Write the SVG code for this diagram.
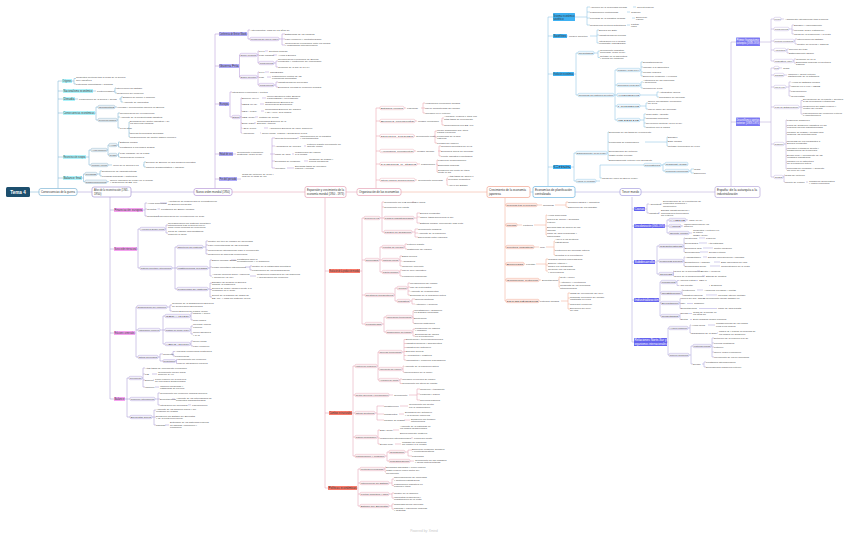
<svg xmlns="http://www.w3.org/2000/svg" width="848" height="536" viewBox="0 0 848 536">
<style>
text{font-family:"Liberation Sans",Arial,sans-serif;font-size:2.5px;fill:#4a4a4a}
.nt{font-size:2.9px;fill:#333}
.lt{font-size:2.6px;fill:#333}
.wt{fill:#fff}
#connectors path{fill:none;stroke-width:.55}
.ka{stroke:#7fb6d6}.kb{stroke:#a99ad6}.kc{stroke:#b79ad8}.kd{stroke:#e5a3b6}.ke{stroke:#eaa3ac}.kf{stroke:#f2ad96}.kg{stroke:#8cc4e6}.kh{stroke:#ada5dc}.ki{stroke:#b9aadb}
.ra{fill:#aef3fb}.rb{fill:#f5a3f0}.rc{fill:#aeaaf8}.rd{fill:#f97a6a}.rg{fill:#3eb1f2}.rh{fill:#6463ef}.ri{fill:#7b78f2}
.ba,.bb,.bc,.bd,.be,.bf,.bg,.bh,.bi{stroke-width:.4}
.ba{fill:#e8f0f5;stroke:#8fb3c9}.bb{fill:#f3f1fa;stroke:#a99ad6}.bc{fill:#f5f0fa;stroke:#b79ad8}.bd{fill:#fbf0f2;stroke:#e5a3b6}.be{fill:#fff;stroke:#e9a0a8}.bf{fill:#fde9e3;stroke:#f0a590}.bg{fill:#eef6fc;stroke:#8cc4e6}.bh{fill:#f0eef8;stroke:#ada5dc}.bi{fill:#fff;stroke:#b9aadb}
.m{fill:#fff;stroke-width:.7}
.title{font-size:4.6px;font-weight:bold;fill:#fff}
.mark{font-size:3.2px;fill:#c8c8c8}
</style>
<rect width="848" height="536" fill="#fff"/>
<g id="connectors">
<path class="ka" d="M30 192H39M58 188.5V81M58 81H62M58 91H63M58 99H63M58 113H63M58 157H63M58 178H63M72 81H74M74 78.5V84M74 78.5H76M74 84H76M93 91H96M114 91H115M115 88V93M115 88H116M115 93H117M75 99H78M119 99H121M121 97V102M121 97H123M121 102H123M95 113H96M96 107V120M96 107H98M96 120H98M115 107H117M117 120H118M118 113V128M118 113H120M118 117H120M118 128H120M128 128H129M129 122V137M129 122H130M129 133H130M129 137H130M86 157H89M89 150V165M89 150H91M89 165H91M107 150H108M108 145V155M108 145H109M108 155H109M117 145H118.5M118.5 142V147M118.5 142H120M118.5 147H120M117 155H118.5M118.5 153V157M118.5 153H120M118.5 157H120M108 165H112M143 165H144M144 162V167M144 162H146M144 167H146M82 178H83.5M83.5 174V181.7M83.5 174H85M83.5 181.7H85M97 174H100M100 171V176M100 171H102M100 176H102M107 181.7H109"/>
<path class="kb" d="M77 192H92M131 192H194M110 197V399M110 210H114M110 249H114M110 333H114M110 399H114M143 210H145M145 203V216M145 203H147M145 209H147M145 216H147M160 203H167M157.5 209H160M158 216H159M137 249H138M138 229V268M138 229H140M138 268H140M165 229H166M166 225V233M166 225H168M166 233H168M172 268H175M175 247V289M175 247H177M175 268H177M175 289H177M203 247H206M206 241V254M206 241H208M206 245H208M206 250H208M206 254H208M208 268H210M210 260V276M210 260H212M210 267H212M210 276H212M231 260H236M245 267H250M250 266V270M250 266H252M250 270H252M250 276H256M208 289H210M210 283V297M210 283H212M210 289.5H212M210 297H212M135 333H136M136 307V357M136 307H137M136 330H138M136 357H138M167 307H170M170 305V311M170 305H172M170 311H172M160 330H163M163 316V344M163 316H165M163 330H165M163 344H165M190 316H191M191 313V320M191 313H193M191 320H193M190 330H191M191 326V334M191 326H193M191 334H193M190 344H191M191 341V346M191 341H193M191 346H193M158 357H160M160 354V361M160 354H163M160 361H163M171 354H173M173 351.5V356M173 351.5H175M173 356H175M175.5 361H176.5M176.5 359.5V363.5M176.5 359.5H178M176.5 363.5H178M125 399H127M127 378V417M127 378H129M127 399H130M127 417H130M142 378H143M143 368V387M143 368H145M143 374H145M143 380H145M143 387H145M152 374H157M153 380H154M155 387H159M155 399H158M158 393V405M158 393H160M158 399H160M158 405H160M172 399H175M188 405H191M152 417H154M154 410V425M154 410H156M154 417H156M154 425H156M165 425H169"/>
<path class="kc" d="M215 188.5V34M215 34H219M215 66H219M215 104H219M215 154H219M215 179H219M247 34H248M248 30V39M248 30H250M248 39H250M279 39H282M282 34V45M282 34H285M282 39H285M282 45H285M239 66H239.5M239.5 55V77M239.5 55H240M239.5 77H240M257 55H258M258 51V63M258 51H259M258 55H259M258 63H259M265 51H268M273 55H277M274 63H276M276 61V67M276 61H278M276 67H278M257 77H258M258 72V85M258 72H259M258 77H259M258 85H259M265 72H269M267 77H271M274 85H276M276 82V87M276 82H278M276 87H278M229 104H230M230 92V117M230 92H232M230 117H232M240 117H241M241 98V133M241 98H242M241 104H242M241 111H242M241 117H242M241 123H242M241 128H242M241 133H242M262 98H266M260 104H264M261 111H264M255 117H258M254 123H256M264 128H268M260 133H261M233 154H236M270 154H272M272 138V168M272 138H275M272 146H275M272 154H275M272 161H275M272 168H275M297 138H299M304 146H306M292 154H294M304 161H308M287 168H294M237 179H241"/>
<path class="kd" d="M232 192H305M346 192H357M325 197.5V488M325 271H329M325 413H329M325 488H328M360 271H362M362 218V324M362 218H364M362 260H365M362 295H365M362 324H365M380 218H382M382 202V232M382 202H384M382 207H384M382 218H384M382 232H384M412 202H414M414 218H417M417 213V223M417 213H420M417 217H420M417 223H420M412 232H415M415 229V237M415 229H418M415 233H418M415 237H418M379 260H380M380 247V272M380 247H382M380 260H382M380 272H382M404 247H405M405 244V249M405 244H407M405 249H407M399 260H400M400 256V266M400 256H402M400 261H402M400 266H402M399 272H400M400 270V276M400 270H402M400 276H402M394 295H395M395 288V301M395 288H397M395 301H397M407 288H408M408 283V295M408 283H410M408 287H410M408 291H410M408 295H410M410 301H412M412 299V304M412 299H415M412 304H415M382 324H384M384 317V332M384 317H386M384 332H386M412 317H413M413 311V323M413 311H414M413 318H414M413 323H414M412 332H413M413 329V336M413 329H415M413 336H415M352 413H353M353 366V456M353 366H355M353 395H355M353 413H355M353 437H355M353 456H355M377 366H378M378 352V380M378 352H379M378 369H379M378 380H379M402 352H404M404 339.5V360M404 339.5H406M404 343.5H406M404 347.5H406M404 351.5H406M404 355.5H406M404 360H406M402 369H403M403 366V372M403 366H404M403 372H404M399 380H400M400 379V383.5M400 379H402M400 383.5H402M389 395H393M409 395H417M417 389V400M417 389H420M417 394H420M417 400H420M375 413H377M377 406V420M377 406H384M377 414H384M377 420H384M400 406H408M399 414H404M404 420H410M377 437H378M378 430V444M378 430H380M378 438H380M378 444H380M393 430H399M411 438H413M395 444H401M385 456H387M387 452V461M387 452H389M387 461H389M405 452H408M408 450V456M408 450H412M408 456H412M410 461H414M357 488H358M358 469V506M358 469H360M358 483H360M358 494H360M358 506H360M384 469H385M385 467V472M385 467H386M385 472H386M389 483H392M392 479V485.5M392 479H394M392 485.5H394M389 494H392M392 493V498M392 493H394M392 498H394M389 506H392M392 504V509M392 504H394M392 509H394"/>
<path class="ke" d="M376 188.5V108M376 108H380M376 121H380M376 136H380M376 151H380M376 164H380M376 180H380M404 108H406M421 108H423M423 103V113M423 103H425M423 108H425M423 113H425M415 121H417M441 121H442M442 118V125M442 118H444M442 125H444M414 136H415M434 136H435M435 131V143M435 131H437M435 137H437M435 143H437M414 151H416M438 151H439M439 146V156M439 146H441M439 151H441M439 156H441M417 164H420M436 164H437M437 160V172M437 160H438M437 165H438M437 172H438M415 180H417M446 180H447M447 178V185M447 178H448M447 185H448"/>
<path class="kf" d="M401 192H487M505 198V301M505 205H506M505 225H506M505 247H506M505 264H506M505 280H506M505 301H506M537 205H542M555 205H566M566 202V207M566 202H568M566 207H568M517 225H522M534 225H546M546 215V235M546 215H547M546 221H547M546 229H547M546 235H547M534 247H539M546 247H554M554 241V255M554 241H555M554 250H555M554 255H555M524 264H525M536 264H546M546 259V271M546 259H548M546 265H548M546 271H548M539 280H541M558 280H559M559 277V287M559 277H560M559 282H560M559 287H560M539 301H539.5M561 301H568M568 293V309M568 293H570M568 298H570M568 304H570M568 309H570"/>
<path class="kg" d="M530 192H533M548 186V17M548 17H553M548 36H553M548 74H553M548 167H553M575 17H587M587 7V25M587 7H590M587 12H590M587 18H590M587 25H590M633 7H636M627 12H630M632 18H635M627 25H630M567 36H568M590 36H597M597 30V43M597 30H599M597 35H599M597 43H599M574 74H576M576 53V95M576 53H578M576 95H578M594 53H598M598 51V57.5M598 51H600M598 57.5H600M614 95H615M615 70V120M615 70H617M615 85H617M615 95H617M615 106H617M615 120H617M640 70H641M641 62V76M641 62H643M641 67H643M641 72H643M641 76H643M640 85H641M641 82V88M641 82H643M641 88H643M640 95H657M657 92V97M657 92H659M657 97H659M640 106H646M646 103V109M646 103H648M646 109H648M640 120H644M644 114V127M644 114H646M644 118H646M644 123H646M644 127H646M571 167H574M574 153V181M574 153H576M574 181H576M607 153H608M608 132V160M608 132H609M608 142H609M608 151H609M608 155H609M608 160H609M645 142H667M667 137V146M667 137H668M667 141H668M667 146H668M596 181H600M600 165V178M600 165H644M600 178H602M661 165H663M663 164V171M663 164H665M663 171H665M689 171H691M691 169V173M691 169H694M691 173H694"/>
<path class="kh" d="M575 192H620M632 197V342M632 209H634M632 226H634M632 262H634M632 300H634M632 342H634M645 209H647M647 204V213M647 204H649M647 213H649M660 204H662M658 213H660M665 226H667M667 220V233M667 220H669M667 226H669M667 233H669M686 220H688M681 226H683M689 233H692M655 262H657M657 246V274M657 246H659M657 261H659M657 274H659M683 246H684M684 238V252M684 238H685M684 243H685M684 248H685M684 252H685M699 238H705M699 243H707M703 248H713M700 252H708M683 261H684M684 257V266M684 257H685M684 262H685M684 266H685M703 257H707M714 262H720M710 266H720M673 274H673.5M673.5 271V276M673.5 271H674M673.5 276H674M697 271H700M702 276H705M659 300H660M660 282V316M660 282H661M660 293H661M660 303H661M660 316H661M676 282H677M677 280.5V285.5M677 280.5H679M677 285.5H679M696 280.5H698M709 285.5H710M681 293H682M682 290V295M682 290H683M682 295H683M697 290H703M706 295H717M679 303H680M680 298.5V308.5M680 298.5H681M680 303.5H681M680 308.5H681M703 298.5H705M687 303.5H693M699 308.5H717M679 316H680M680 313.5V319.5M680 313.5H681M680 319.5H681M689 313.5H692M690 319.5H692M667 342H668M668 328V355M668 328H669M668 355H669M688 328H690M690 325V333M690 325H691M690 333H691M708 325H715M717 333H718M689 355H691M691 346V364M691 346H693M691 364H693M711 346H712M712 338V357M712 338H714M712 343H714M712 347H714M712 352H714M712 357H714M702 364H704M704 362V367M704 362H706M704 367H706"/>
<path class="ki" d="M641 192H715M731 186V42M731 42H736M731 122H736M760 42H771M771 19V61M771 19H774M771 29H774M771 41H774M771 50H774M771 61H774M781 19H784M789 29H792M792 25V34M792 25H794M792 30H794M792 34H794M794 41H795M795 39V44M795 39H797M795 44H797M786 50H787M787 49V53M787 49H789M787 53H789M793 61H794M794 59V63M794 59H796M794 63H796M760 122H771M771 68V177M771 68H774M771 75H774M771 87H774M771 107H774M771 144H774M771 177H774M779 68H782M784 75H787M786 87H789M789 82V96M789 82H791M789 86H791M789 91H791M789 96H791M799 107H801M801 100.5V114M801 100.5H803M801 107H803M801 114H803M784 144H786M786 120V169M786 120H787M786 126H787M786 133H787M786 142H787M786 149H787M786 156H787M786 162H787M786 169H787M783 177H784M784 175V182M784 175H785M784 182H785M806 182H808"/>
</g>

<g id="tema4"><rect x="6" y="187" width="24" height="10" rx="1.5" fill="#1d4f6e"/><text class="title" x="18" y="193.6" text-anchor="middle">Tema 4</text></g>

<g id="n1"><rect class="m" x="39" y="188.5" width="38" height="7" rx="2" stroke="#7fb6d6"/><text class="nt" x="41" y="193" textLength="34" lengthAdjust="spacingAndGlyphs">Consecuencias de la guerra</text></g>
<g id="n2"><rect class="m" x="92" y="187" width="39" height="10" rx="2" stroke="#a99ad6"/><text class="nt" x="94" y="191.2" textLength="35" lengthAdjust="spacingAndGlyphs">Años de la reconstrucción (1945 -</text><text class="nt" x="94" y="194.9">1950)</text></g>
<g id="n3"><rect class="m" x="194" y="188.5" width="38" height="7" rx="2" stroke="#b79ad8"/><text class="nt" x="196" y="193" textLength="34" lengthAdjust="spacingAndGlyphs">Nuevo orden mundial (1950)</text></g>
<g id="n4"><rect class="m" x="305" y="186.5" width="41" height="11" rx="2" stroke="#e5a3b6"/><text class="nt" x="307" y="191" textLength="37" lengthAdjust="spacingAndGlyphs">Expansión y crecimiento de la</text><text class="nt" x="307" y="194.8" textLength="37" lengthAdjust="spacingAndGlyphs">economía mundial (1950 - 1973)</text></g>
<g id="n5"><rect class="m" x="357" y="188.5" width="44" height="7" rx="2" stroke="#e5a3b6"/><text class="nt" x="359" y="193" textLength="40" lengthAdjust="spacingAndGlyphs">Organización de las economías</text></g>
<g id="n6"><rect class="m" x="487" y="186.5" width="43" height="11" rx="2" stroke="#f0a590"/><text class="nt" x="489" y="191" textLength="37" lengthAdjust="spacingAndGlyphs">Crecimiento de la economía</text><text class="nt" x="489" y="194.8">japonesa</text></g>
<g id="n7"><rect class="m" x="533" y="186.5" width="42" height="11" rx="2" stroke="#6fb5e0" stroke-width=".9"/><text class="nt" x="535" y="191" textLength="37" lengthAdjust="spacingAndGlyphs">Economías de planificación</text><text class="nt" x="535" y="194.8">centralizada</text></g>
<g id="n8"><rect class="m" x="620" y="188.5" width="21" height="7" rx="2" stroke="#a8a0e0"/><text class="nt" x="622" y="193" textLength="17" lengthAdjust="spacingAndGlyphs">Tercer mundo</text></g>
<g id="n9"><rect class="m" x="715" y="186.5" width="45" height="11" rx="2" stroke="#b9aadb"/><text class="nt" x="717" y="191" textLength="40" lengthAdjust="spacingAndGlyphs">España: de la autarquía a la</text><text class="nt" x="717" y="194.8">industrialización</text></g>

<g id="branchA">
<rect class="ra" x="62" y="79" width="10" height="4"/><text class="lt" x="62.5" y="81.9" textLength="9" lengthAdjust="spacingAndGlyphs">Orígenes</text>
<text x="76" y="78.2">Conflictos políticos tras la crisis de la Guerra</text><text x="76" y="80.6">Civil española</text><text x="76" y="84.9">Potencias enfrentadas y alianzas</text>
<rect class="ra" x="63" y="89" width="30" height="4"/><text class="lt" x="63.5" y="91.9" textLength="29" lengthAdjust="spacingAndGlyphs">Nacionalismo económico</text>
<text x="97" y="91.9">Proteccionismo</text><text x="116" y="88.9">Intervención del Estado</text><text x="117" y="93.9">Reducción del comercio</text>
<rect class="ra" x="63" y="97" width="12" height="4"/><text class="lt" x="63.5" y="99.9" textLength="11" lengthAdjust="spacingAndGlyphs">Deuda</text>
<text x="79" y="99.9">Financiación de la guerra y deuda</text><text x="123" y="97.9">Emisión de dinero e inflación</text><text x="123" y="102.9">Aumento de impuestos</text>
<rect class="ra" x="63" y="111" width="32" height="4"/><text class="lt" x="63.5" y="113.9" textLength="31" lengthAdjust="spacingAndGlyphs">Consecuencias económicas</text>
<rect class="ba" x="98" y="105.3" width="17" height="3.4" rx="1.2"/><text x="98.8" y="107.8" textLength="15.4" lengthAdjust="spacingAndGlyphs">Conflictos</text>
<text x="117" y="107.9">Huelgas y movimientos obreros en Europa</text>
<rect class="ba" x="98" y="118.3" width="19" height="3.4" rx="1.2"/><text x="98.8" y="120.8" textLength="17.4" lengthAdjust="spacingAndGlyphs">Crecimiento industrial</text>
<text x="120" y="113.9">Recuperación de la producción</text><text x="120" y="117.9">Aumento de la productividad industrial</text><text x="120" y="128.9">1945-1950</text>
<text x="130" y="121.5">Expansión del sector industrial y de</text><text x="130" y="123.8">los servicios urbanos</text><text x="130" y="133.9">Nuevas tecnologías aplicadas</text><text x="130" y="137.9">Modernización del sector agrario europeo</text>
<rect class="ra" x="63" y="155" width="23" height="4"/><text class="lt" x="63.5" y="157.9" textLength="22" lengthAdjust="spacingAndGlyphs">Reconstrucción europea</text>
<rect class="ba" x="91" y="148.3" width="16" height="3.4" rx="1.2"/><text x="91.8" y="150.8" textLength="14.4" lengthAdjust="spacingAndGlyphs">Ayuda económica</text>
<rect class="ba" x="109" y="143.3" width="8" height="3.4" rx="1.2"/><text x="109.8" y="145.8" textLength="6.4" lengthAdjust="spacingAndGlyphs">Ayuda</text>
<rect class="ba" x="109" y="153.3" width="8" height="3.4" rx="1.2"/><text x="109.8" y="155.8" textLength="6.4" lengthAdjust="spacingAndGlyphs">Plan</text>
<text x="120" y="142.9">Estados Unidos</text><text x="120" y="147.9">Préstamos a los países aliados</text><text x="120" y="153.9">Plan Marshall (1948-1952)</text><text x="120" y="157.9">Cooperación europea</text>
<rect class="ba" x="91" y="163.3" width="17" height="3.4" rx="1.2"/><text x="91.8" y="165.8" textLength="15.4" lengthAdjust="spacingAndGlyphs">Conflictos y guerras</text>
<text x="113" y="165.9">Inicio de la Guerra Fría</text><text x="146" y="162.9">División de Europa en dos bloques opuestos</text><text x="146" y="167.9">Carrera armamentística y espacial</text>
<rect class="ra" x="63" y="176" width="19" height="4"/><text class="lt" x="63.5" y="178.9" textLength="18" lengthAdjust="spacingAndGlyphs">Balance final</text>
<rect class="ba" x="85" y="172.3" width="12" height="3.4" rx="1.2"/><text x="85.8" y="174.8" textLength="10.4" lengthAdjust="spacingAndGlyphs">Pérdidas</text>
<text x="102" y="171.9">Destrucción de infraestructuras</text><text x="102" y="176.9">Pérdidas humanas y materiales</text>
<rect class="ba" x="85" y="180" width="22" height="3.4" rx="1.2"/><text x="85.8" y="182.5" textLength="20.4" lengthAdjust="spacingAndGlyphs">Grandes consecuencias</text>
<text x="110" y="181.1">Nuevo equilibrio de poder en el mundo</text><text x="110" y="183.4">y hegemonía de EE. UU.</text>
</g>

<g id="branchB">
<rect class="rb" x="114" y="208" width="29" height="4"/><text class="lt" x="114.5" y="210.9" textLength="28" lengthAdjust="spacingAndGlyphs">Financiación europea</text>
<text x="147" y="203.9">Ayuda americana</text><text x="147" y="209.9">Créditos</text><text x="147" y="216.9">Resultados</text>
<text x="168" y="202.3">Aportación de fondos para la reconstrucción</text><text x="168" y="204.6">de Europa occidental</text>
<text x="161" y="209.9">Préstamos del Banco Mundial</text><text x="160" y="216.9">Recuperación de la producción en 1950</text>
<rect class="rb" x="114" y="247" width="23" height="4"/><text class="lt" x="114.5" y="249.9" textLength="22" lengthAdjust="spacingAndGlyphs">Nuevo orden internacional</text>
<rect class="bb" x="140" y="227.3" width="25" height="3.4" rx="1.2"/><text x="140.8" y="229.8" textLength="23.4" lengthAdjust="spacingAndGlyphs">Acuerdos de Bretton Woods</text>
<text x="168" y="223.6">Reorganización del sistema monetario</text><text x="168" y="225.9">internacional tras la guerra con el</text><text x="168" y="228.2">dólar como moneda de referencia</text>
<text x="168" y="232.2">Tipos de cambio fijos ajustables</text><text x="168" y="234.5">respecto al dólar</text>
<rect class="bb" x="140" y="266.3" width="32" height="3.4" rx="1.2"/><text x="140.8" y="268.8" textLength="30.4" lengthAdjust="spacingAndGlyphs">Sistema Monetario Internacional</text>
<rect class="bb" x="177" y="245.3" width="26" height="3.4" rx="1.2"/><text x="177.8" y="247.8" textLength="24.4" lengthAdjust="spacingAndGlyphs">Objetivos del sistema</text>
<rect class="bb" x="177" y="266.3" width="31" height="3.4" rx="1.2"/><text x="177.8" y="268.8" textLength="29.4" lengthAdjust="spacingAndGlyphs">Instituciones creadas</text>
<rect class="bb" x="177" y="287.3" width="31" height="3.4" rx="1.2"/><text x="177.8" y="289.8" textLength="29.4" lengthAdjust="spacingAndGlyphs">Problemas del sistema</text>
<text x="208" y="241.9">Control del tipo de cambio de las divisas</text><text x="208" y="245.9">Libre convertibilidad de las monedas</text><text x="208" y="250.9">Cooperación internacional para el crecimiento</text><text x="208" y="254.9">Reducción de barreras comerciales</text>
<text x="212" y="260.9">Banco Mundial (BIRD)</text><text x="237" y="259.8">Préstamos para la</text><text x="237" y="262.1">reconstrucción y el desarrollo</text>
<text x="212" y="267.9">Fondo Monetario Internacional</text><text x="252" y="266.9">Control de la estabilidad monetaria</text><text x="252" y="270.9">Financiación de los desequilibrios</text>
<text x="212" y="275.3">Acuerdo General sobre Aranceles</text><text x="212" y="277.6">y Comercio (GATT)</text><text x="257" y="275.3">Reducción progresiva de los aranceles</text><text x="257" y="277.6">y liberalización del comercio</text>
<text x="212" y="282.6">Escasez de dólares en Europa</text><text x="212" y="284.9">durante la posguerra</text>
<text x="212" y="289.1">Dilema de Triffin: liquidez frente a la</text><text x="212" y="291.4">confianza en el dólar</text>
<text x="212" y="296.4">Déficit de la balanza de pagos de</text><text x="212" y="298.7">EE. UU. y crisis del sistema (1971)</text>
<rect class="rb" x="114" y="331" width="21" height="4"/><text class="lt" x="114.5" y="333.9" textLength="20" lengthAdjust="spacingAndGlyphs">Relaciones comerciales</text>
<rect class="bb" x="137" y="305.3" width="30" height="3.4" rx="1.2"/><text x="137.8" y="307.8" textLength="28.4" lengthAdjust="spacingAndGlyphs">Organización del comercio</text>
<text x="172" y="304.4">Creación de la Organización Europea</text><text x="172" y="306.7">de Cooperación Económica</text><text x="172" y="311.9">Unión Europea de Pagos (1950)</text>
<rect class="bb" x="138" y="328.3" width="22" height="3.4" rx="1.2"/><text x="138.8" y="330.8" textLength="20.4" lengthAdjust="spacingAndGlyphs">Integración europea</text>
<rect class="bb" x="165" y="314.3" width="25" height="3.4" rx="1.2"/><text x="165.8" y="316.8" textLength="23.4" lengthAdjust="spacingAndGlyphs">CECA (1951)</text>
<rect class="bb" x="165" y="328.3" width="25" height="3.4" rx="1.2"/><text x="165.8" y="330.8" textLength="23.4" lengthAdjust="spacingAndGlyphs">Tratado de Roma (1957)</text>
<rect class="bb" x="165" y="342.3" width="25" height="3.4" rx="1.2"/><text x="165.8" y="344.8" textLength="23.4" lengthAdjust="spacingAndGlyphs">AELC (1960)</text>
<text x="193" y="313.9">Carbón y acero</text><text x="193" y="320.9">Seis países</text>
<text x="193" y="325.4">Mercado común</text><text x="193" y="327.7">europeo</text><text x="193" y="333.4">Unión aduanera</text><text x="193" y="335.7">y PAC</text>
<text x="193" y="341.9">Reino Unido</text><text x="193" y="346.9">Libre comercio</text>
<rect class="bb" x="138" y="355.3" width="20" height="3.4" rx="1.2"/><text x="138.8" y="357.8" textLength="18.4" lengthAdjust="spacingAndGlyphs">Otros acuerdos</text>
<text x="163" y="354.9">Comercio</text><text x="175" y="352.4">Acuerdos comerciales bilaterales</text><text x="175" y="356.9">Preferencias</text>
<rect class="bb" x="163" y="359.6" width="12.5" height="3" rx="1"/><text x="163.6" y="361.9" textLength="11.3" lengthAdjust="spacingAndGlyphs">Resultados</text>
<text x="178" y="360.3">Crecimiento del comercio</text><text x="178" y="364.3">Mayor integración europea</text>
<rect class="rb" x="114" y="397" width="11" height="4"/><text class="lt" x="114.5" y="399.9" textLength="10" lengthAdjust="spacingAndGlyphs">Balance</text>
<rect class="bb" x="129" y="376.3" width="13" height="3.4" rx="1.2"/><text x="129.8" y="378.8" textLength="11.4" lengthAdjust="spacingAndGlyphs">Crecimiento</text>
<text x="145" y="368.9">Altas tasas de crecimiento económico</text><text x="145" y="374.9">PIB</text><text x="145" y="380.9">Empleo</text><text x="145" y="387.9">Inflación</text>
<text x="158" y="373.1">Crecimiento medio anual</text><text x="158" y="375.4">superior al 4%</text><text x="155" y="379.9">Pleno empleo en la mayoría</text><text x="155" y="382.2">de los países desarrollados</text><text x="160" y="386.9">Inflación moderada y</text><text x="160" y="389.2">estabilidad de precios</text>
<rect class="bb" x="130" y="397.3" width="25" height="3.4" rx="1.2"/><text x="130.8" y="399.8" textLength="23.4" lengthAdjust="spacingAndGlyphs">Comercio internacional</text>
<text x="160" y="393.9">Crecimiento del comercio mundial superior</text><text x="160" y="399.9">Exportaciones</text><text x="160" y="405.9">Integración de mercados</text>
<text x="176" y="398.9">Aumento de los intercambios de</text><text x="176" y="401.2">productos manufacturados</text><text x="192" y="405.9">Liberalización</text>
<rect class="bb" x="130" y="415.3" width="22" height="3.4" rx="1.2"/><text x="130.8" y="417.8" textLength="20.4" lengthAdjust="spacingAndGlyphs">Bienestar social</text>
<text x="156" y="409.6">Aumento de los salarios reales y del</text><text x="156" y="411.9">consumo de masas</text><text x="156" y="416.6">Desarrollo del Estado del Bienestar</text><text x="156" y="418.9">y de la protección social</text><text x="156" y="425.9">Sanidad</text>
<text x="170" y="423.4">Extensión de los sistemas públicos</text><text x="170" y="425.7">de sanidad, educación y</text><text x="170" y="428">pensiones</text>
</g>

<g id="branchC">
<rect class="rc" x="219" y="32" width="28" height="4"/><text class="lt" x="219.5" y="34.9" textLength="27" lengthAdjust="spacingAndGlyphs">Conferencia de Bretton Woods</text>
<text x="250" y="30.9">Antecedentes: crisis de los años 30</text>
<rect class="bc" x="250" y="37.3" width="29" height="3.4" rx="1.2"/><text x="250.8" y="39.8" textLength="27.4" lengthAdjust="spacingAndGlyphs">Principios del nuevo orden</text>
<text x="285" y="34.9">Estabilidad de los cambios</text><text x="285" y="39.9">Libre comercio y multilateralismo</text><text x="285" y="43.9">Cooperación económica entre los países</text><text x="285" y="46.2">y organismos internacionales</text>
<rect class="rc" x="219" y="64" width="20" height="4"/><text class="lt" x="219.5" y="66.9" textLength="19" lengthAdjust="spacingAndGlyphs">Guerra Fría</text>
<rect class="bc" x="240" y="53.3" width="17" height="3.4" rx="1.2"/><text x="240.8" y="55.8" textLength="15.4" lengthAdjust="spacingAndGlyphs">Bloque occidental</text>
<text x="259" y="51.9">1947</text><text x="269" y="51.9">Doctrina Truman</text><text x="259" y="55.9">Plan Marshall</text><text x="278" y="55.9">Ayuda a Europa</text>
<rect class="bc" x="259" y="61.3" width="15" height="3.4" rx="1.2"/><text x="259.8" y="63.8" textLength="13.4" lengthAdjust="spacingAndGlyphs">Consecuencias</text>
<text x="278" y="60.1">Recuperación económica de Europa</text><text x="278" y="62.4">occidental y contención del comunismo</text><text x="278" y="67.9">Creación de la OTAN (1949)</text>
<rect class="bc" x="240" y="75.3" width="17" height="3.4" rx="1.2"/><text x="240.8" y="77.8" textLength="15.4" lengthAdjust="spacingAndGlyphs">Bloque soviético</text>
<text x="259" y="72.9">1949</text><text x="270" y="72.9">COMECON</text><text x="259" y="77.9">Plan</text><text x="272" y="76.6">Planificación central de las</text><text x="272" y="78.9">economías socialistas</text>
<rect class="bc" x="259" y="83.3" width="15" height="3.4" rx="1.2"/><text x="259.8" y="85.8" textLength="13.4" lengthAdjust="spacingAndGlyphs">Consecuencias</text>
<text x="278" y="82.9">Industrialización acelerada</text><text x="278" y="87.9">Economía cerrada al comercio mundial</text>
<rect class="rc" x="219" y="102" width="10" height="4"/><text class="lt" x="219.5" y="104.9" textLength="9" lengthAdjust="spacingAndGlyphs">Europa</text>
<text x="232" y="92.9">Integración económica y política</text>
<rect class="bc" x="232" y="115.3" width="8" height="3.4" rx="1.2"/><text x="232.6" y="117.8" textLength="6.8" lengthAdjust="spacingAndGlyphs">Etapas</text>
<text x="242" y="98.9">Benelux (1944)</text><text x="267" y="97.1">Unión aduanera entre Bélgica,</text><text x="267" y="99.4">Países Bajos y Luxemburgo</text>
<text x="242" y="104.9">OECE (1948)</text><text x="265" y="102.9">Organización Europea de</text><text x="265" y="105.2">Cooperación Económica</text>
<text x="242" y="111.9">CECA (1951)</text><text x="265" y="110.3">Comunidad Europea del Carbón</text><text x="265" y="112.6">y del Acero, seis países</text>
<text x="242" y="117.9">CEE (1957)</text><text x="259" y="117.9">Tratado de Roma</text>
<text x="242" y="123.9">EURATOM</text><text x="257" y="122.1">Comunidad Europea de la</text><text x="257" y="124.4">Energía Atómica</text>
<text x="242" y="128.9">AELC (1960)</text><text x="269" y="128.9">Asociación Europea de Libre Comercio</text>
<text x="242" y="133.9">Ampliación</text><text x="262" y="133.9">Reino Unido, Irlanda y Dinamarca (1973)</text>
<rect class="rc" x="219" y="152" width="14" height="4"/><text class="lt" x="219.5" y="154.9" textLength="13" lengthAdjust="spacingAndGlyphs">Edad de oro</text>
<text x="237" y="153.1">Crecimiento económico</text><text x="237" y="155.4">sostenido (1950-1973)</text>
<text x="275" y="138.9">Nuevas tecnologías</text><text x="300" y="137.1">Innovaciones en la industria</text><text x="300" y="139.4">y los transportes</text>
<text x="275" y="146.9">Abundancia de energía</text><text x="307" y="145">Petróleo barato procedente de</text><text x="307" y="147.3">Oriente Medio</text>
<text x="275" y="154.9">Mano de obra</text><text x="295" y="153.1">Migraciones del campo</text><text x="295" y="155.4">a la ciudad</text>
<text x="275" y="161.9">Demanda de consumo</text><text x="309" y="160.1">Consumo de masas y</text><text x="309" y="162.4">bienes duraderos</text>
<text x="275" y="168.9">Inversión</text><text x="295" y="167.1">Elevadas tasas de inversión</text><text x="295" y="169.4">pública y privada</text>
<rect class="rc" x="219" y="177" width="18" height="4"/><text class="lt" x="219.5" y="179.9" textLength="17" lengthAdjust="spacingAndGlyphs">Fin del periodo</text>
<text x="242" y="175">Crisis del petróleo de 1973 y</text><text x="242" y="177.3">final de la edad de oro</text>
</g>

<g id="branchD">
<rect class="rd" x="329" y="269" width="31" height="4"/><text class="lt" x="329.5" y="271.9" textLength="30" lengthAdjust="spacingAndGlyphs">Evolución de la producción mundial</text>
<rect class="bd" x="364" y="216.3" width="16" height="3.4" rx="1.2"/><text x="364.8" y="218.8" textLength="14.4" lengthAdjust="spacingAndGlyphs">Evolución del PIB</text>
<text x="384" y="202.9">Crecimiento del PIB mundial</text><text x="415" y="202.9">5% anual</text><text x="384" y="207.9">Crecimiento per cápita</text>
<rect class="bd" x="384" y="216.3" width="30" height="3.4" rx="1.2"/><text x="384.8" y="218.8" textLength="28.4" lengthAdjust="spacingAndGlyphs">Países industrializados</text>
<text x="420" y="213.9">Europa occidental</text><text x="420" y="217.9">Japón: tasas superiores al 8%</text><text x="420" y="223.9">Estados Unidos: crecimiento más lento</text>
<rect class="bd" x="384" y="230.3" width="28" height="3.4" rx="1.2"/><text x="384.8" y="232.8" textLength="26.4" lengthAdjust="spacingAndGlyphs">Países en desarrollo</text>
<text x="418" y="229.9">Crecimiento desigual</text><text x="418" y="233.9">Aumento de la población</text><text x="418" y="237.9">Diferencias entre regiones</text>
<rect class="bd" x="365" y="258.3" width="14" height="3.4" rx="1.2"/><text x="365.8" y="260.8" textLength="12.4" lengthAdjust="spacingAndGlyphs">Recursos</text>
<rect class="bd" x="382" y="245.3" width="22" height="3.4" rx="1.2"/><text x="382.8" y="247.8" textLength="20.4" lengthAdjust="spacingAndGlyphs">Fuentes de energía</text>
<text x="407" y="244.9">Petróleo barato</text><text x="407" y="249.9">Sustitución del carbón</text>
<rect class="bd" x="382" y="258.3" width="17" height="3.4" rx="1.2"/><text x="382.8" y="260.8" textLength="15.4" lengthAdjust="spacingAndGlyphs">Materias primas</text>
<text x="402" y="256.9">Bajos precios</text><text x="402" y="261.9">Abundancia</text><text x="402" y="266.9">Comercio creciente</text>
<rect class="bd" x="382" y="270.3" width="17" height="3.4" rx="1.2"/><text x="382.8" y="272.8" textLength="15.4" lengthAdjust="spacingAndGlyphs">Capital humano</text>
<text x="402" y="270.9">Mayor nivel educativo</text><text x="402" y="276.9">Formación profesional</text>
<rect class="bd" x="365" y="293.3" width="29" height="3.4" rx="1.2"/><text x="365.8" y="295.8" textLength="27.4" lengthAdjust="spacingAndGlyphs">Sectores productivos</text>
<rect class="bd" x="397" y="286.3" width="10" height="3.4" rx="1.2"/><text x="397.6" y="288.8" textLength="8.8" lengthAdjust="spacingAndGlyphs">Agricultura</text>
<text x="410" y="283.9">Mecanización del campo</text><text x="410" y="287.9">Uso de fertilizantes</text><text x="410" y="291.9">Aumento de rendimientos</text><text x="410" y="295.9">Descenso de la población activa</text>
<rect class="bd" x="397" y="299.3" width="13" height="3.4" rx="1.2"/><text x="397.8" y="301.8" textLength="11.4" lengthAdjust="spacingAndGlyphs">Industria</text>
<text x="415" y="299.9">Nuevos sectores</text><text x="415" y="304.9">Automóvil y química</text>
<rect class="bd" x="365" y="322.3" width="17" height="3.4" rx="1.2"/><text x="365.8" y="324.8" textLength="15.4" lengthAdjust="spacingAndGlyphs">Productividad</text>
<rect class="bd" x="386" y="315.3" width="26" height="3.4" rx="1.2"/><text x="386.8" y="317.8" textLength="24.4" lengthAdjust="spacingAndGlyphs">Innovación tecnológica</text>
<text x="414" y="310.6">Investigación y desarrollo</text><text x="414" y="312.9">en grandes empresas</text><text x="414" y="318.9">Electrónica</text><text x="414" y="323.9">Nuevos materiales</text>
<rect class="bd" x="386" y="330.3" width="26" height="3.4" rx="1.2"/><text x="386.8" y="332.8" textLength="24.4" lengthAdjust="spacingAndGlyphs">Organización del trabajo</text>
<text x="415" y="328.6">Producción en cadena</text><text x="415" y="330.9">y fordismo</text><text x="415" y="334.6">Economías de escala</text><text x="415" y="336.9">en la producción</text>
<rect class="rd" x="329" y="411" width="23" height="4"/><text class="lt" x="329.5" y="413.9" textLength="22" lengthAdjust="spacingAndGlyphs">Cambios estructurales</text>
<rect class="bd" x="355" y="364.3" width="22" height="3.4" rx="1.2"/><text x="355.8" y="366.8" textLength="20.4" lengthAdjust="spacingAndGlyphs">Factores de producción</text>
<rect class="bd" x="379" y="350.3" width="23" height="3.4" rx="1.2"/><text x="379.8" y="352.8" textLength="21.4" lengthAdjust="spacingAndGlyphs">Nuevas tecnologías</text>
<text x="406" y="340.4">Electrónica y telecomunicaciones</text><text x="406" y="344.4">Industria química y farmacéutica</text><text x="406" y="348.4">Industria del automóvil</text><text x="406" y="352.4">Energía nuclear</text><text x="406" y="356.4">Aeronáutica y plásticos</text><text x="406" y="360.9">Informática y primeros ordenadores</text>
<rect class="bd" x="379" y="367.3" width="23" height="3.4" rx="1.2"/><text x="379.8" y="369.8" textLength="21.4" lengthAdjust="spacingAndGlyphs">Incremento del empleo</text>
<text x="404" y="366.9">Aumento de la población activa</text><text x="404" y="372.9">Incorporación de la mujer</text>
<rect class="bd" x="379" y="378.3" width="20" height="3.4" rx="1.2"/><text x="379.8" y="380.8" textLength="18.4" lengthAdjust="spacingAndGlyphs">Aportación del capital</text>
<text x="402" y="379.9">Inversión en bienes de equipo</text><text x="402" y="384.4">Crecimiento del stock de capital</text>
<rect class="bd" x="355" y="393.3" width="34" height="3.4" rx="1.2"/><text x="355.8" y="395.8" textLength="32.4" lengthAdjust="spacingAndGlyphs">Sector servicios y terciarización</text>
<text x="394" y="395.9">Crecimiento</text><text x="420" y="389.9">Comercio y transporte</text><text x="420" y="394.9">Finanzas y banca</text><text x="420" y="400.9">Servicios públicos</text>
<rect class="bd" x="355" y="411.3" width="20" height="3.4" rx="1.2"/><text x="355.8" y="413.8" textLength="18.4" lengthAdjust="spacingAndGlyphs">Otros sectores</text>
<text x="384" y="406.9">Construcción</text><text x="409" y="405.4">Crecimiento del sector</text><text x="409" y="407.7">por la urbanización</text>
<text x="384" y="414.9">Transportes</text><text x="405" y="413.4">Expansión del automóvil</text><text x="405" y="415.7">y la aviación comercial</text>
<text x="384" y="420.9">Turismo de masas</text><text x="411" y="419.6">Desarrollo del turismo</text><text x="411" y="421.9">internacional</text>
<rect class="bd" x="355" y="435.3" width="22" height="3.4" rx="1.2"/><text x="355.8" y="437.8" textLength="20.4" lengthAdjust="spacingAndGlyphs">Cambio demográfico</text>
<text x="380" y="430.9">Baby boom</text><text x="400" y="427.1">Aumento de la natalidad en</text><text x="400" y="429.4">los países desarrollados</text><text x="400" y="433.9">Envejecimiento posterior</text>
<text x="380" y="438.9">Migraciones internacionales</text><text x="414" y="438.9">Flujos Sur-Norte</text>
<text x="380" y="444.9">Éxodo rural</text><text x="402" y="442.9">Traslado de población</text><text x="402" y="445.2">del campo a la ciudad</text>
<rect class="bd" x="355" y="454.3" width="30" height="3.4" rx="1.2"/><text x="355.8" y="456.8" textLength="28.4" lengthAdjust="spacingAndGlyphs">Urbanización y consumo</text>
<rect class="bd" x="389" y="450.3" width="16" height="3.4" rx="1.2"/><text x="389.8" y="452.8" textLength="14.4" lengthAdjust="spacingAndGlyphs">Consumo</text>
<text x="412" y="449.6">Bienes de consumo duradero</text><text x="412" y="451.9">y electrodomésticos</text><text x="412" y="456.9">Publicidad</text>
<rect class="bd" x="389" y="459.3" width="21" height="3.4" rx="1.2"/><text x="389.8" y="461.8" textLength="19.4" lengthAdjust="spacingAndGlyphs">Urbanización</text>
<text x="415" y="460.9">Crecimiento de las ciudades</text><text x="415" y="463.2">y áreas metropolitanas</text>
<rect class="rd" x="328" y="486" width="29" height="4"/><text class="lt" x="328.5" y="488.9" textLength="28" lengthAdjust="spacingAndGlyphs">Políticas económicas</text>
<rect class="bd" x="360" y="467.3" width="24" height="3.4" rx="1.2"/><text x="360.8" y="469.8" textLength="22.4" lengthAdjust="spacingAndGlyphs">Políticas keynesianas</text>
<text x="386" y="467.9">Demanda agregada y pleno empleo</text><text x="386" y="471.4">Gasto público como motor del</text><text x="386" y="473.7">crecimiento</text>
<rect class="bd" x="360" y="481.3" width="29" height="3.4" rx="1.2"/><text x="360.8" y="483.8" textLength="27.4" lengthAdjust="spacingAndGlyphs">Intervención del Estado</text>
<text x="394" y="478.4">Nacionalización de empresas</text><text x="394" y="480.7">y sectores estratégicos</text><text x="394" y="485">Planificación indicativa en</text><text x="394" y="487.3">Francia e Italia</text>
<rect class="bd" x="360" y="492.3" width="29" height="3.4" rx="1.2"/><text x="360.8" y="494.8" textLength="27.4" lengthAdjust="spacingAndGlyphs">Política monetaria y fiscal</text>
<text x="394" y="493.9">Control de la inflación</text><text x="394" y="497.6">Impuestos progresivos y</text><text x="394" y="499.9">redistribución de la renta</text>
<rect class="bd" x="360" y="504.3" width="29" height="3.4" rx="1.2"/><text x="360.8" y="506.8" textLength="27.4" lengthAdjust="spacingAndGlyphs">Estado del Bienestar</text>
<text x="394" y="504.9">Seguridad social universal</text><text x="394" y="508.6">Sanidad y educación públicas</text><text x="394" y="510.9">y gratuitas</text>
</g>

<g id="branchE">
<rect class="be" x="380" y="106.3" width="24" height="3.4" rx="1.2"/><text x="380.8" y="108.8" textLength="22.4" lengthAdjust="spacingAndGlyphs">Estados Unidos</text>
<text x="407" y="108.9">Liderazgo</text><text x="425" y="103.9">Hegemonía económica mundial</text><text x="425" y="108.9">Mayor productividad del mundo</text><text x="425" y="113.9">Inversión en el exterior</text>
<rect class="be" x="380" y="119.3" width="35" height="3.4" rx="1.2"/><text x="380.8" y="121.8" textLength="33.4" lengthAdjust="spacingAndGlyphs">Europa occidental</text>
<text x="418" y="121.9">Milagro económico</text><text x="444" y="117.4">Alemania, Francia e Italia con</text><text x="444" y="119.7">altas tasas de crecimiento</text><text x="444" y="125.9">Convergencia con EE. UU.</text>
<rect class="be" x="380" y="134.3" width="34" height="3.4" rx="1.2"/><text x="380.8" y="136.8" textLength="32.4" lengthAdjust="spacingAndGlyphs">Reino Unido</text>
<text x="416" y="136.9">Crecimiento lento</text><text x="437" y="130.9">Menor dinamismo que otros</text><text x="437" y="133.2">países europeos</text><text x="437" y="136.9">Problemas de la libra</text><text x="437" y="139.2">esterlina</text><text x="437" y="143.9">Pérdida del imperio</text>
<rect class="be" x="380" y="149.3" width="34" height="3.4" rx="1.2"/><text x="380.8" y="151.8" textLength="32.4" lengthAdjust="spacingAndGlyphs">Alemania occidental</text>
<text x="417" y="151.9">Milagro alemán</text><text x="441" y="146.9">Reforma monetaria de 1948</text><text x="441" y="151.9">Economía social de mercado</text><text x="441" y="156.9">Fuerte industria exportadora</text>
<rect class="be" x="380" y="162.3" width="37" height="3.4" rx="1.2"/><text x="380.8" y="164.8" textLength="35.4" lengthAdjust="spacingAndGlyphs">Francia e Italia</text>
<text x="421" y="164.9">Planificación</text><text x="438" y="160.9">Planes de modernización</text><text x="438" y="165.9">Empresas públicas</text><text x="438" y="171">Desarrollo del norte de Italia</text><text x="438" y="173.3">frente al sur</text>
<rect class="be" x="380" y="178.3" width="35" height="3.4" rx="1.2"/><text x="380.8" y="180.8" textLength="33.4" lengthAdjust="spacingAndGlyphs">Otros países desarrollados</text>
<text x="418" y="180.9">Crecimiento acelerado</text><text x="448" y="177.4">Altas tasas de ahorro e</text><text x="448" y="179.7">inversión productiva</text><text x="448" y="185.9">Apoyo del Estado</text>
</g>

<g id="branchF">
<rect class="bf" x="506" y="203.3" width="31" height="3.4" rx="1.2"/><text x="506.8" y="205.8" textLength="29.4" lengthAdjust="spacingAndGlyphs">Reformas tras la ocupación</text>
<text x="543" y="205.9">Reformas</text><text x="568" y="202.9">Reforma agraria y educativa</text><text x="568" y="207.9">Disolución de los zaibatsu</text>
<rect class="bf" x="506" y="223.3" width="11" height="3.4" rx="1.2"/><text x="506.8" y="225.8" textLength="9.4" lengthAdjust="spacingAndGlyphs">Causas</text>
<text x="523" y="225.9">Factores</text><text x="547" y="215.9">Ayuda americana</text><text x="547" y="220.4">Guerra de Corea y demanda</text><text x="547" y="222.7">exterior</text><text x="547" y="228.4">Elevada tasa de ahorro de las</text><text x="547" y="230.7">familias</text><text x="547" y="234.4">Mano de obra cualificada y</text><text x="547" y="236.7">disciplinada</text>
<rect class="bf" x="506" y="245.3" width="28" height="3.4" rx="1.2"/><text x="506.8" y="247.8" textLength="26.4" lengthAdjust="spacingAndGlyphs">Política industrial</text>
<text x="540" y="247.9">MITI</text><text x="555" y="240.4">Apoyo a los sectores</text><text x="555" y="242.7">estratégicos</text><text x="555" y="250.9">Protección del mercado interior</text><text x="555" y="255.9">Créditos a la exportación</text>
<rect class="bf" x="506" y="262.3" width="18" height="3.4" rx="1.2"/><text x="506.8" y="264.8" textLength="16.4" lengthAdjust="spacingAndGlyphs">Empresas</text>
<text x="526" y="264.9">Keiretsu</text><text x="548" y="259.9">Grandes grupos empresariales</text><text x="548" y="264.4">Empleo vitalicio y</text><text x="548" y="266.7">salario por antigüedad</text><text x="548" y="270.4">Relación con los bancos</text><text x="548" y="272.7">y proveedores</text>
<rect class="bf" x="506" y="278.3" width="33" height="3.4" rx="1.2"/><text x="506.8" y="280.8" textLength="31.4" lengthAdjust="spacingAndGlyphs">Comercio exterior</text>
<text x="542" y="280.9">Exportaciones</text><text x="560" y="277.9">Textil y acero</text><text x="560" y="282.9">Automóvil y electrónica</text><text x="560" y="286.4">Conquista de los mercados</text><text x="560" y="288.7">internacionales</text>
<rect class="bf" x="506" y="299.3" width="33" height="3.4" rx="1.2"/><text x="506.8" y="301.8" textLength="31.4" lengthAdjust="spacingAndGlyphs">Resultados</text>
<text x="540" y="301.9">Potencia mundial</text><text x="570" y="293.9">Tasas de crecimiento del 10%</text><text x="570" y="297.6">Segunda economía del mundo</text><text x="570" y="299.9">capitalista en 1968</text><text x="570" y="304.9">Superávit comercial</text><text x="570" y="308.6">Elevación del nivel</text><text x="570" y="310.9">de vida</text>
</g>

<g id="branchG">
<rect class="rg" x="553" y="13" width="22" height="8" rx=".5"/><text class="lt" x="553.5" y="16.5" textLength="21" lengthAdjust="spacingAndGlyphs">Sistema económico</text><text class="lt" x="553.5" y="19.6">soviético</text>
<text x="590" y="7.9">Abolición de la propiedad privada</text><text x="637" y="7.9">Colectivización</text>
<text x="590" y="12.9">Planificación centralizada</text><text x="631" y="12.9">Gosplan</text>
<text x="590" y="18.9">Prioridad de la industria pesada</text><text x="636" y="17.7">Bienes de</text><text x="636" y="20">equipo</text>
<text x="590" y="25.9">Regímenes políticos autoritarios</text><text x="631" y="24.7">Partido</text><text x="631" y="27">único</text>
<rect class="rg" x="553" y="34" width="14" height="4" rx=".5"/><text class="lt" x="553.5" y="36.9" textLength="13" lengthAdjust="spacingAndGlyphs">Satélites</text>
<text x="569" y="36.9">Modelo soviético</text><text x="599" y="30.9">Europa del Este</text><text x="599" y="35.9">Industrialización forzosa</text><text x="599" y="41.9">Integración en el bloque</text><text x="599" y="44.2">comunista (COMECON)</text>
<rect class="rg" x="553" y="72" width="21" height="4" rx=".5"/><text class="lt" x="553.5" y="74.9" textLength="20" lengthAdjust="spacingAndGlyphs">Evolución económica</text>
<rect class="bg" x="578" y="51.3" width="16" height="3.4" rx="1.2"/><text x="578.8" y="53.8" textLength="14.4" lengthAdjust="spacingAndGlyphs">Resultados</text>
<text x="600" y="50.6">Crecimiento industrial</text><text x="600" y="52.9">acelerado (1950-1960)</text><text x="600" y="57">Retraso en la agricultura</text><text x="600" y="59.3">y bienes de consumo</text>
<rect class="bg" x="578" y="93.3" width="36" height="3.4" rx="1.2"/><text x="578.8" y="95.8" textLength="34.4" lengthAdjust="spacingAndGlyphs">Reformas del sistema soviético</text>
<rect class="bg" x="617" y="68.3" width="23" height="3.4" rx="1.2"/><text x="617.8" y="70.8" textLength="21.4" lengthAdjust="spacingAndGlyphs">Jruschov (1953-1964)</text>
<text x="643" y="62.9">Desestalinización</text><text x="643" y="67.9">Impulso a la agricultura</text><text x="643" y="72.9">Tierras vírgenes</text><text x="643" y="76.9">Bienes de consumo y vivienda</text>
<rect class="bg" x="617" y="83.3" width="23" height="3.4" rx="1.2"/><text x="617.8" y="85.8" textLength="21.4" lengthAdjust="spacingAndGlyphs">Reforma Kosygin</text>
<text x="643" y="81.1">Autonomía de las empresas</text><text x="643" y="83.4">y beneficios</text><text x="643" y="88.9">Reforma de 1965</text>
<rect class="bg" x="617" y="93.3" width="23" height="3.4" rx="1.2"/><text x="617.8" y="95.8" textLength="21.4" lengthAdjust="spacingAndGlyphs">Yugoslavia</text>
<text x="659" y="92.9">Autogestión obrera</text><text x="659" y="97.9">Socialismo de mercado</text>
<rect class="bg" x="617" y="104.3" width="23" height="3.4" rx="1.2"/><text x="617.8" y="106.8" textLength="21.4" lengthAdjust="spacingAndGlyphs">Hungría</text>
<text x="648" y="102.1">Nuevo mecanismo económico</text><text x="648" y="104.4">de 1968</text><text x="648" y="109.9">Mayor papel del mercado</text>
<rect class="bg" x="617" y="118.3" width="23" height="3.4" rx="1.2"/><text x="617.8" y="120.8" textLength="21.4" lengthAdjust="spacingAndGlyphs">China</text>
<text x="646" y="114.9">Gran Salto Adelante</text><text x="646" y="118.9">Comunas populares</text><text x="646" y="123.9">Revolución Cultural (1966-1976)</text><text x="646" y="127.9">Ruptura con la URSS</text>
<rect class="rg" x="553" y="165" width="18" height="4" rx=".5"/><text class="lt" x="553.5" y="167.9" textLength="17" lengthAdjust="spacingAndGlyphs">Crisis</text>
<rect class="bg" x="576" y="151.3" width="31" height="3.4" rx="1.2"/><text x="576.8" y="153.8" textLength="29.4" lengthAdjust="spacingAndGlyphs">Estancamiento (1970-1980)</text>
<text x="609" y="132.9">Descenso de las tasas de crecimiento</text><text x="609" y="142.9">Problemas de planificación</text>
<text x="668" y="137.9">Escasez</text><text x="668" y="141.9">Baja calidad</text><text x="668" y="146.9">Retraso tecnológico de 1970</text>
<text x="609" y="151.9">Dependencia del petróleo</text><text x="609" y="155.9">Gasto militar elevado</text><text x="609" y="160.9">Endeudamiento exterior con Occidente</text>
<rect class="bg" x="576" y="179.3" width="20" height="3.4" rx="1.2"/><text x="576.8" y="181.8" textLength="18.4" lengthAdjust="spacingAndGlyphs">Hacia el colapso</text>
<rect class="bg" x="644" y="163.3" width="17" height="3.4" rx="1.2"/><text x="644.8" y="165.8" textLength="15.4" lengthAdjust="spacingAndGlyphs">Perestroika</text>
<rect class="bg" x="665" y="162.3" width="23" height="3.4" rx="1.2"/><text x="665.8" y="164.8" textLength="21.4" lengthAdjust="spacingAndGlyphs">Glasnost (1985)</text>
<rect class="bg" x="665" y="169.3" width="24" height="3.4" rx="1.2"/><text x="665.8" y="171.8" textLength="22.4" lengthAdjust="spacingAndGlyphs">Reformas económicas</text>
<text x="694" y="169.9">Crisis</text><text x="694" y="173.9">Disolución</text>
<text x="602" y="178.9">Caída del Muro de Berlín (1989)</text>
</g>

<g id="branchH">
<rect class="rh" x="634" y="207" width="11" height="4" rx=".5"/><text class="lt wt" x="634.5" y="209.9" textLength="10" lengthAdjust="spacingAndGlyphs">Causas</text>
<text x="649" y="204.9">Agricultura</text><text x="663" y="201.9">Dependencia de la exportación de</text><text x="663" y="204.2">productos primarios y</text><text x="663" y="206.5">monocultivo</text>
<text x="649" y="213.9">Industria</text><text x="661" y="211.3">Escasa industrialización y</text><text x="661" y="213.6">dependencia tecnológica</text><text x="661" y="215.9">del exterior</text>
<rect class="rh" x="634" y="224" width="31" height="4" rx=".5"/><text class="lt wt" x="634.5" y="226.9" textLength="30" lengthAdjust="spacingAndGlyphs">Descolonización (1945-1975)</text>
<rect class="bh" x="669" y="218.3" width="17" height="3.4" rx="1.2"/><text x="669.8" y="220.8" textLength="15.4" lengthAdjust="spacingAndGlyphs">Asia</text><text x="689" y="220.9">India (1947)</text>
<rect class="bh" x="669" y="224.3" width="12" height="3.4" rx="1.2"/><text x="669.8" y="226.8" textLength="10.4" lengthAdjust="spacingAndGlyphs">África</text><text x="684" y="225.1">Independencias de los</text><text x="684" y="227.4">años 60</text>
<rect class="bh" x="669" y="231.3" width="20" height="3.4" rx="1.2"/><text x="669.8" y="233.8" textLength="18.4" lengthAdjust="spacingAndGlyphs">Oriente Medio</text><text x="693" y="231.1">Conflictos y petróleo en</text><text x="693" y="233.4">la región</text><text x="693" y="235.7">OPEP (1960)</text>
<rect class="rh" x="634" y="260" width="21" height="4" rx=".5"/><text class="lt wt" x="634.5" y="262.9" textLength="20" lengthAdjust="spacingAndGlyphs">Subdesarrollo</text>
<rect class="bh" x="659" y="244.3" width="24" height="3.4" rx="1.2"/><text x="659.8" y="246.8" textLength="22.4" lengthAdjust="spacingAndGlyphs">Características</text>
<text x="685" y="238.9">Renta baja</text><text x="706" y="238.9">Pobreza</text><text x="685" y="243.9">Demografía</text><text x="708" y="243.9">Alta natalidad</text><text x="685" y="248.9">Economía dual</text><text x="714" y="248.9">Sector moderno</text><text x="685" y="252.9">Dependencia</text><text x="709" y="252.9">Deuda externa</text>
<rect class="bh" x="659" y="259.3" width="24" height="3.4" rx="1.2"/><text x="659.8" y="261.8" textLength="22.4" lengthAdjust="spacingAndGlyphs">Problemas sociales</text>
<text x="685" y="257.9">Analfabetismo</text><text x="708" y="257.9">Escasa escolarización y sanidad</text><text x="685" y="262.9">Desnutrición y hambre</text><text x="721" y="262.9">Baja esperanza de vida</text><text x="685" y="266.9">Desigualdad social</text><text x="721" y="266.9">Concentración de la renta</text>
<rect class="bh" x="659" y="272.3" width="14" height="3.4" rx="1.2"/><text x="659.8" y="274.8" textLength="12.4" lengthAdjust="spacingAndGlyphs">Teorías</text>
<text x="674" y="271.9">Teoría de la dependencia</text><text x="701" y="271.9">Centro y periferia</text><text x="674" y="276.9">Teoría de la modernización</text><text x="706" y="276.9">Etapas de Rostow</text>
<rect class="rh" x="634" y="298" width="25" height="4" rx=".5"/><text class="lt wt" x="634.5" y="300.9" textLength="24" lengthAdjust="spacingAndGlyphs">Industrialización</text>
<rect class="bh" x="661" y="280.3" width="15" height="3.4" rx="1.2"/><text x="661.8" y="282.8" textLength="13.4" lengthAdjust="spacingAndGlyphs">Modelos</text>
<text x="679" y="281.4">América Latina</text><text x="699" y="281.4">CEPAL</text><text x="679" y="286.4">Asia oriental</text><text x="711" y="286.4">Dragones</text>
<rect class="bh" x="661" y="291.3" width="20" height="3.4" rx="1.2"/><text x="661.8" y="293.8" textLength="18.4" lengthAdjust="spacingAndGlyphs">Sustitución</text>
<text x="683" y="290.9">Protección</text><text x="704" y="290.9">Aranceles elevados y cuotas</text><text x="683" y="295.9">Industria nacional</text><text x="718" y="295.9">Mercado interior limitado</text>
<rect class="bh" x="661" y="301.3" width="18" height="3.4" rx="1.2"/><text x="661.8" y="303.8" textLength="16.4" lengthAdjust="spacingAndGlyphs">Exportación</text>
<text x="681" y="299.4">Corea del Sur, Taiwán</text><text x="706" y="299.4">Crecimiento rápido basado en</text><text x="681" y="304.4">NPI</text><text x="694" y="304.4">Singapur</text><text x="681" y="309.4">Exportaciones</text><text x="718" y="309.4">Mano de obra barata</text>
<rect class="bh" x="661" y="314.3" width="18" height="3.4" rx="1.2"/><text x="661.8" y="316.8" textLength="16.4" lengthAdjust="spacingAndGlyphs">Resultados</text>
<text x="681" y="314.4">Deuda</text><text x="693" y="313.1">Crisis de la deuda en</text><text x="693" y="315.4">los años 80</text><text x="681" y="320.4">Éxitos</text><text x="693" y="320.4">Éxito desigual según regiones</text>
<rect class="rh" x="634" y="338" width="33" height="8" rx=".5"/><text class="lt wt" x="634.5" y="341.4" textLength="32" lengthAdjust="spacingAndGlyphs">Relaciones Norte-Sur y</text><text class="lt wt" x="634.5" y="344.6" textLength="32" lengthAdjust="spacingAndGlyphs">organismos internacionales</text>
<rect class="bh" x="669" y="326.3" width="19" height="3.4" rx="1.2"/><text x="669.8" y="328.8" textLength="17.4" lengthAdjust="spacingAndGlyphs">Ayuda al desarrollo</text>
<text x="691" y="325.9">Ayuda oficial</text><text x="716" y="324.4">Transferencias de los países</text><text x="716" y="326.7">ricos a los pobres</text><text x="691" y="333.9">Organismos de la ONU</text><text x="719" y="332.4">UNCTAD y PNUD en defensa de</text><text x="719" y="334.7">los países en desarrollo</text>
<rect class="bh" x="669" y="353.3" width="20" height="3.4" rx="1.2"/><text x="669.8" y="355.8" textLength="18.4" lengthAdjust="spacingAndGlyphs">Comercio internacional</text>
<rect class="bh" x="693" y="344.3" width="18" height="3.4" rx="1.2"/><text x="693.8" y="346.8" textLength="16.4" lengthAdjust="spacingAndGlyphs">Materias primas</text>
<text x="714" y="338.9">Deterioro de la relación real de</text><text x="714" y="343.9">Precios inestables</text><text x="714" y="347.9">Petróleo</text><text x="714" y="352.9">Nuevo orden económico</text><text x="714" y="357.9">Movimiento de los no alineados</text>
<text x="693" y="364.9">Deuda</text><text x="706" y="362.9">Préstamos internacionales</text><text x="706" y="367.9">Dependencia financiera exterior</text>
</g>

<g id="branchI">
<rect class="ri" x="736" y="37.5" width="24" height="8.5" rx=".5"/><text class="lt wt" x="736.5" y="41.2" textLength="23" lengthAdjust="spacingAndGlyphs">Primer franquismo:</text><text class="lt wt" x="736.5" y="44.4" textLength="23" lengthAdjust="spacingAndGlyphs">autarquía (1939-1959)</text>
<rect class="bi" x="774" y="17.3" width="7" height="3.4" rx="1.2"/><text x="774.6" y="19.8" textLength="5.8" lengthAdjust="spacingAndGlyphs">Política</text><text x="785" y="19.9">Aislamiento internacional tras la guerra</text>
<rect class="bi" x="774" y="27.3" width="15" height="3.4" rx="1.2"/><text x="774.8" y="29.8" textLength="13.4" lengthAdjust="spacingAndGlyphs">Consecuencias</text>
<text x="794" y="25.9">Escasez y racionamiento</text><text x="794" y="30.9">Mercado negro (estraperlo)</text><text x="794" y="34.9">Caída de la producción y la renta</text>
<rect class="bi" x="774" y="39.3" width="20" height="3.4" rx="1.2"/><text x="774.8" y="41.8" textLength="18.4" lengthAdjust="spacingAndGlyphs">Política económica</text>
<text x="797" y="39.9">Intervención del Estado</text><text x="797" y="44.9">Control de precios y salarios</text>
<rect class="bi" x="774" y="48.3" width="12" height="3.4" rx="1.2"/><text x="774.8" y="50.8" textLength="10.4" lengthAdjust="spacingAndGlyphs">Agricultura</text>
<text x="789" y="49.9">Servicio del trigo</text><text x="789" y="53.9">Estancamiento agrario</text>
<rect class="bi" x="774" y="59.3" width="19" height="3.4" rx="1.2"/><text x="774.8" y="61.8" textLength="17.4" lengthAdjust="spacingAndGlyphs">Industria (INI)</text>
<text x="796" y="59.9">Creación en 1941</text><text x="796" y="62.9">Empresas públicas en sectores</text><text x="796" y="65.2">básicos</text>
<rect class="ri" x="736" y="117.5" width="24" height="8.5" rx=".5"/><text class="lt wt" x="736.5" y="121.2" textLength="23" lengthAdjust="spacingAndGlyphs">Desarrollismo y apertura</text><text class="lt wt" x="736.5" y="124.4" textLength="23" lengthAdjust="spacingAndGlyphs">exterior (1959-1975)</text>
<rect class="bi" x="774" y="66.3" width="5" height="3.4" rx="1.2"/><text x="774.5" y="68.8" textLength="4" lengthAdjust="spacingAndGlyphs">Fin</text><text x="783" y="68.9">Crisis</text>
<rect class="bi" x="774" y="73.3" width="10" height="3.4" rx="1.2"/><text x="774.8" y="75.8" textLength="8.4" lengthAdjust="spacingAndGlyphs">Causas</text><text x="788" y="74.5">Inflación y déficit exterior</text><text x="788" y="76.8">agotamiento de la autarquía</text>
<rect class="bi" x="774" y="85.3" width="12" height="3.4" rx="1.2"/><text x="774.8" y="87.8" textLength="10.4" lengthAdjust="spacingAndGlyphs">Plan de 1959</text>
<text x="791" y="82.9">Ayuda de Estados Unidos</text><text x="791" y="86.9">Ingreso en el FMI y OECE</text><text x="791" y="91.9">Liberalización</text><text x="791" y="96.9">Tecnócratas</text>
<rect class="bi" x="774" y="105.3" width="25" height="3.4" rx="1.2"/><text x="774.8" y="107.8" textLength="23.4" lengthAdjust="spacingAndGlyphs">Plan de Estabilización</text>
<text x="803" y="100">Devaluación de la peseta y apertura</text><text x="803" y="102.3">a las inversiones extranjeras</text><text x="803" y="106.6">Reducción del gasto público y</text><text x="803" y="108.9">control del crédito</text><text x="803" y="113.6">Liberalización del comercio exterior</text><text x="803" y="115.9">e importaciones</text>
<rect class="bi" x="774" y="142.3" width="10" height="3.4" rx="1.2"/><text x="774.8" y="144.8" textLength="8.4" lengthAdjust="spacingAndGlyphs">Desarrollo</text>
<text x="787" y="120.9">Planes de desarrollo</text><text x="787" y="125.5">Polos de desarrollo industrial en las</text><text x="787" y="127.8">regiones menos industrializadas</text><text x="787" y="132.5">Turismo de masas y divisas para</text><text x="787" y="134.8">financiar las importaciones</text><text x="787" y="141.5">Remesas de los emigrantes a</text><text x="787" y="143.8">Europa occidental</text><text x="787" y="148.5">Inversión extranjera directa y</text><text x="787" y="150.8">transferencia de tecnología</text><text x="787" y="155.5">Éxodo rural y crecimiento de las</text><text x="787" y="157.8">ciudades industriales</text><text x="787" y="161.5">Cambio en la estructura</text><text x="787" y="163.8">de la población activa</text><text x="787" y="168.5">Sociedad de consumo y aumento</text><text x="787" y="170.8">del nivel de vida</text>
<rect class="bi" x="774" y="175.3" width="9" height="3.4" rx="1.2"/><text x="774.8" y="177.8" textLength="7.4" lengthAdjust="spacingAndGlyphs">Crisis</text>
<text x="785" y="175.9">Crisis del petróleo</text><text x="785" y="182.9">Muerte de Franco</text><text x="809" y="181.6">Transición democrática</text><text x="809" y="183.9">y crisis económica</text>
</g>

<text class="mark" x="424" y="532" text-anchor="middle">Powered by: Xmind</text>
</svg>
